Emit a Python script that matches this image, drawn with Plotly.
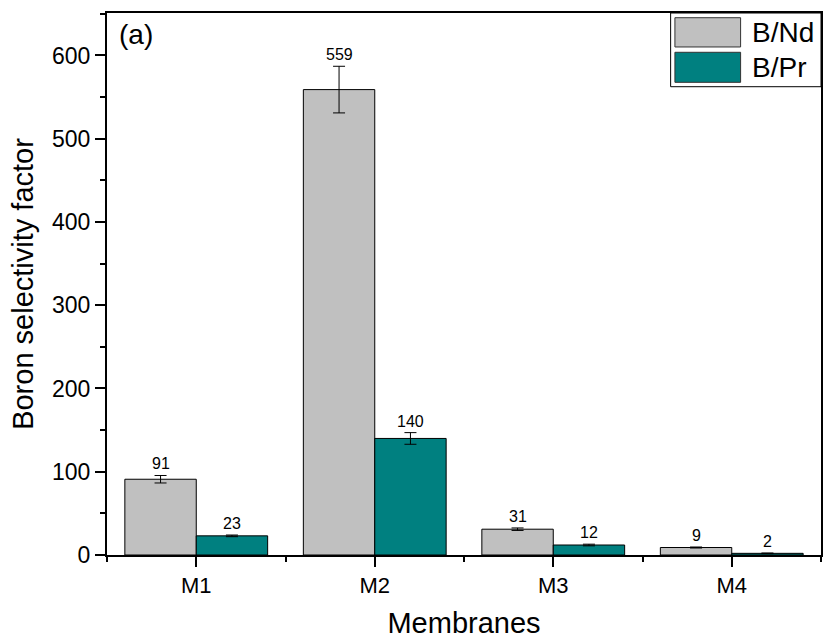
import plotly.graph_objects as go

categories = ["M1", "M2", "M3", "M4"]
b_nd = [91, 559, 31, 9]
b_nd_err = [4.5, 28, 1.5, 0.6]
b_pr = [23, 140, 12, 2]
b_pr_err = [1, 7, 1, 0.4]
series_names = ["B/Nd", "B/Pr"]
colors = ["#C0C0C0", "#008080"]
y_ticks = [0, 100, 200, 300, 400, 500, 600]

FONT = "Liberation Sans, Arial, sans-serif"
xpos = list(range(len(categories)))

fig = go.Figure()
for name, vals, errs, col in [(series_names[0], b_nd, b_nd_err, colors[0]),
                              (series_names[1], b_pr, b_pr_err, colors[1])]:
    fig.add_trace(go.Bar(
        x=xpos, y=vals, name=name,
        marker=dict(color=col, line=dict(color="black", width=1)),
        error_y=dict(type="data", array=errs, visible=True, color="black",
                     thickness=1, width=6),
        showlegend=False,
    ))

fig.update_layout(
    barmode="group", bargap=0.2, bargroupgap=0,
    width=826, height=639,
    margin=dict(l=107, r=3, t=13, b=84),
    plot_bgcolor="white", paper_bgcolor="white",
    font=dict(family=FONT, color="black"),
)

fig.update_xaxes(
    range=[-0.5, 3.5], tickmode="array", tickvals=xpos, ticktext=categories,
    ticks="outside", ticklen=10, tickwidth=2, tickcolor="black",
    showline=True, linecolor="black", linewidth=2, mirror=True,
    showgrid=False, zeroline=False,
    tickfont=dict(size=22, family=FONT),
    minor=dict(tick0=0.5, dtick=1, ticks="outside", ticklen=5, tickwidth=2,
               tickcolor="black", showgrid=False),
    title=dict(text="Membranes", font=dict(size=29, family=FONT), standoff=16),
)
fig.update_yaxes(
    range=[0, 651], tickmode="array", tickvals=y_ticks,
    ticks="outside", ticklen=10, tickwidth=2, tickcolor="black",
    showline=True, linecolor="black", linewidth=2, mirror=True,
    showgrid=False, zeroline=False,
    tickfont=dict(size=23, family=FONT),
    minor=dict(tick0=0, dtick=50, ticks="outside", ticklen=5, tickwidth=2,
               tickcolor="black", showgrid=False),
    title=dict(text="Boron selectivity factor", font=dict(size=29, family=FONT),
               standoff=10),
)

# value labels above the error bars
for vals, errs, off in [(b_nd, b_nd_err, -0.2), (b_pr, b_pr_err, 0.2)]:
    for i, (v, e) in enumerate(zip(vals, errs)):
        fig.add_annotation(x=i + off, y=v + e, text=str(v), showarrow=False,
                           yanchor="bottom", yshift=1,
                           font=dict(size=16, family=FONT, color="black"))

# panel label
fig.add_annotation(x=0.0135, y=0.961, xref="paper", yref="paper", text="(a)",
                   showarrow=False, xanchor="left", yanchor="middle",
                   font=dict(size=28, family=FONT, color="black"))

# custom legend
fig.add_shape(type="rect", xref="paper", yref="paper", x0=0.7894, x1=1.0,
              y0=0.864, y1=1.0, line=dict(color="black", width=1),
              fillcolor="white")
sw_y = [(0.9373, 0.9913), (0.8721, 0.9275)]
for (y0, y1), col, name in zip(sw_y, colors, series_names):
    fig.add_shape(type="rect", xref="paper", yref="paper", x0=0.7954, x1=0.8874,
                  y0=y0, y1=y1, line=dict(color="#333333", width=1),
                  fillcolor=col)
    fig.add_annotation(x=0.9006, y=(y0 + y1) / 2, xref="paper", yref="paper",
                       text=name, showarrow=False, xanchor="left",
                       yanchor="middle",
                       font=dict(size=28, family=FONT, color="black"))

fig.write_html("out.html",
               config={"displayModeBar": False},
               post_script="document.body.style.margin='0';"
                           "document.body.style.overflow='hidden';")
